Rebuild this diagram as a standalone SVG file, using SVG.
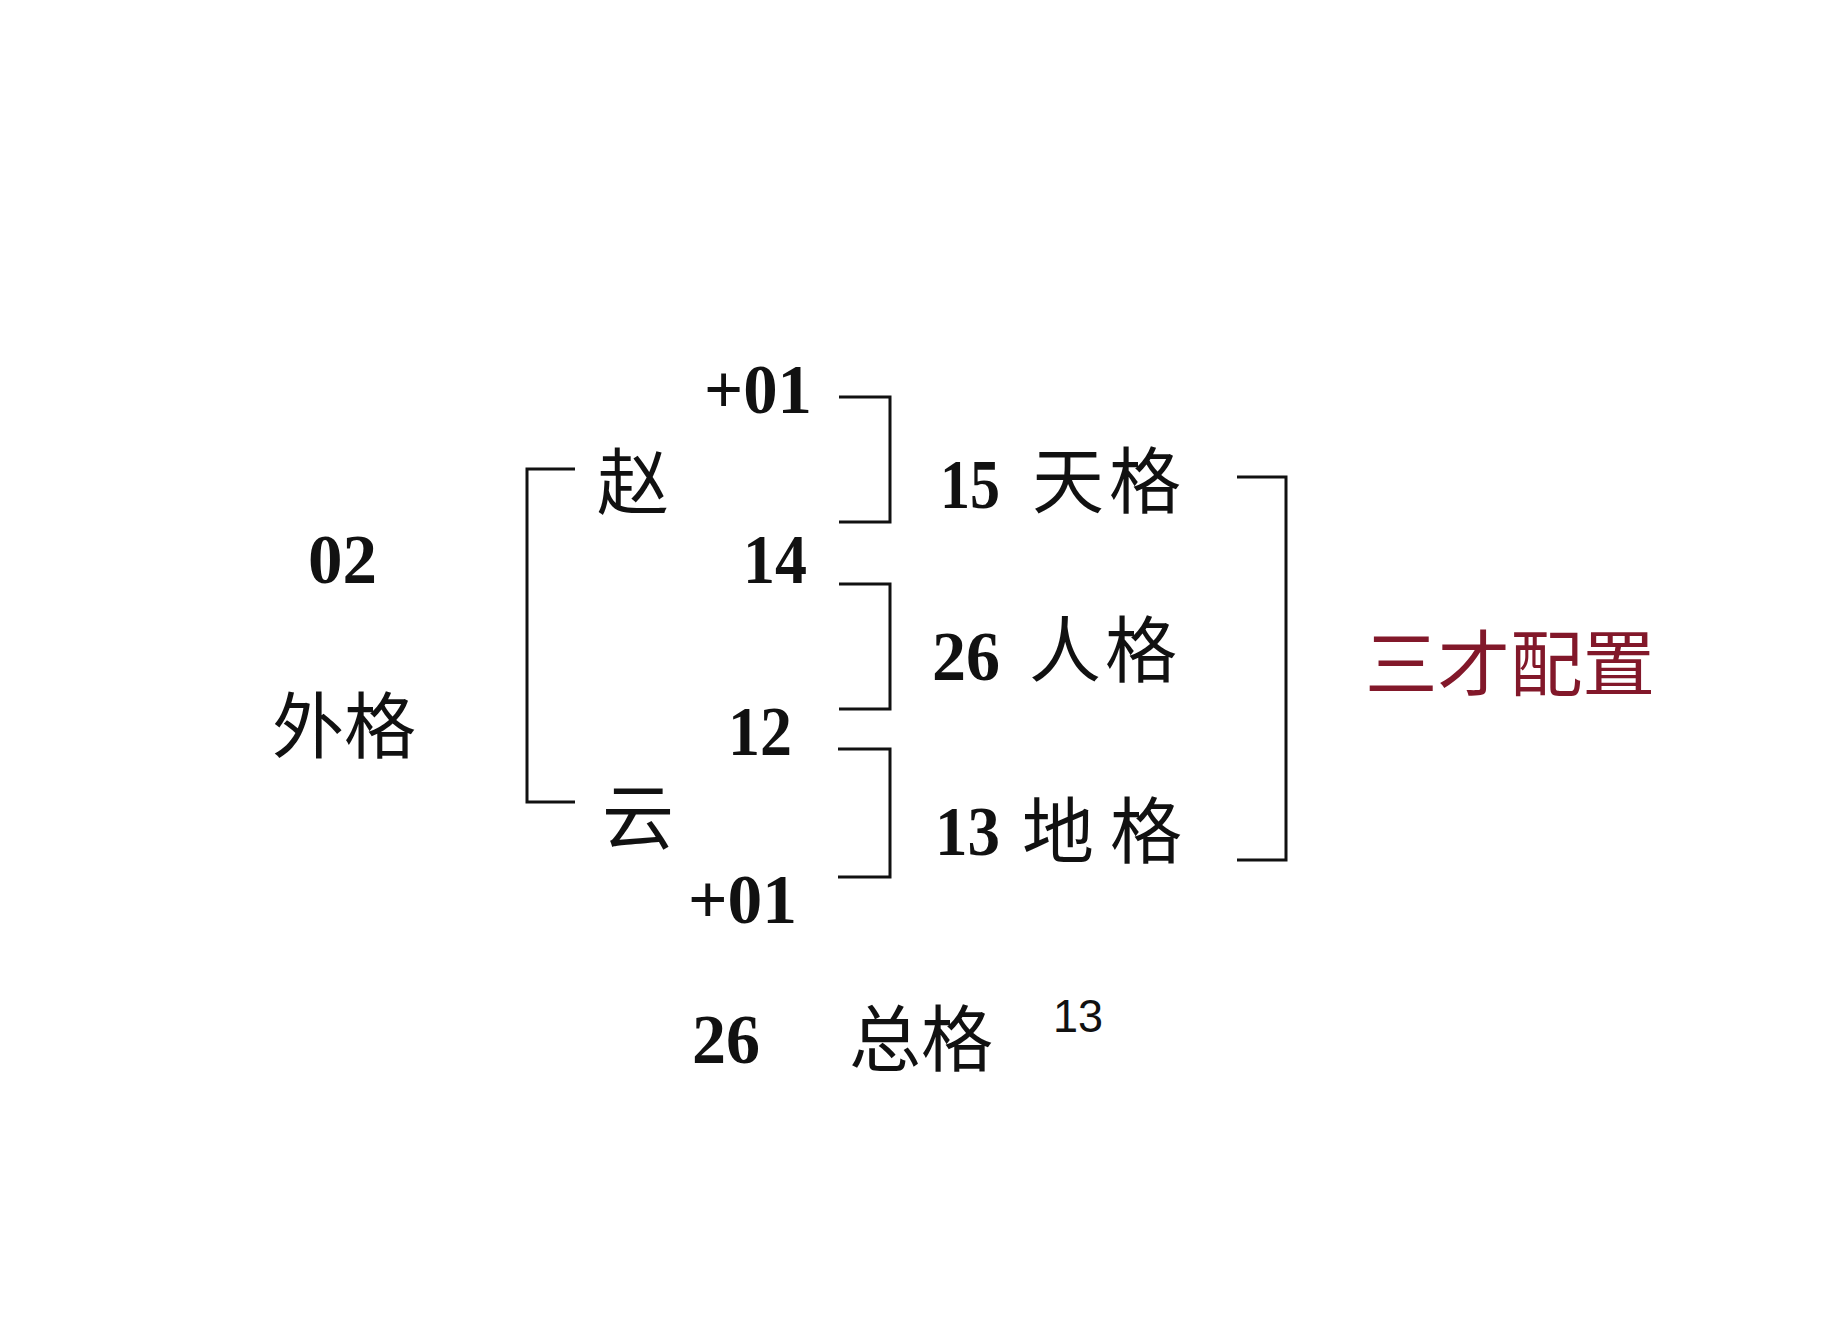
<svg xmlns="http://www.w3.org/2000/svg" width="1848" height="1324" viewBox="0 0 1848 1324">
<style>
.num{font-family:"Liberation Serif","Times New Roman",serif;font-weight:bold;font-size:70px;fill:#111}
.cjk{font-family:"Noto Sans CJK SC","Noto Sans CJK TC",sans-serif;font-weight:400;font-size:72px;fill:#111}
.red{font-family:"Noto Sans CJK SC","Noto Sans CJK TC",sans-serif;font-weight:400;font-size:72px;fill:#82182a}
.small{font-family:"Liberation Sans","Noto Sans",sans-serif;font-size:46px;fill:#111}
.br{fill:none;stroke:#111;stroke-width:3}
</style>
<rect width="1848" height="1324" fill="#ffffff"/>
<g id="connectors">
<path class="br" d="M575,469 H527 V802 H575"/>
<path class="br" d="M839,397 H890 V522 H839"/>
<path class="br" d="M839,584 H890 V709 H839"/>
<path class="br" d="M838,749 H890 V877 H838"/>
<path class="br" d="M1237,477 H1286 V860 H1237"/>
</g>
<g id="waige">
<text class="num" x="308" y="583" textLength="69" lengthAdjust="spacingAndGlyphs">02</text>
<text class="cjk" x="272" y="752" font-size="74">外格</text>
</g>
<g id="zhao">
<text class="cjk" x="597" y="508">赵</text>
</g>
<g id="yun">
<text class="cjk" x="602" y="843" font-size="69">云</text>
</g>
<g id="plus-top">
<text class="num" x="704" y="413" textLength="108" lengthAdjust="spacingAndGlyphs">+01</text>
</g>
<g id="n14">
<text class="num" x="743" y="583" textLength="64" lengthAdjust="spacingAndGlyphs">14</text>
</g>
<g id="n12">
<text class="num" x="728" y="755" textLength="64" lengthAdjust="spacingAndGlyphs">12</text>
</g>
<g id="plus-bottom">
<text class="num" x="688" y="923" textLength="109" lengthAdjust="spacingAndGlyphs">+01</text>
</g>
<g id="tiange">
<text class="num" x="940" y="508" textLength="60" lengthAdjust="spacingAndGlyphs">15</text>
<text class="cjk" x="1032" y="507">天</text>
<text class="cjk" x="1109" y="507">格</text>
</g>
<g id="renge">
<text class="num" x="932" y="680" textLength="68" lengthAdjust="spacingAndGlyphs">26</text>
<text class="cjk" x="1029" y="676">人</text>
<text class="cjk" x="1105" y="676">格</text>
</g>
<g id="dige">
<text class="num" x="935" y="855" textLength="65" lengthAdjust="spacingAndGlyphs">13</text>
<text class="cjk" x="1022" y="857">地</text>
<text class="cjk" x="1110" y="857">格</text>
</g>
<g id="sancai">
<text class="red" x="1365" y="690" textLength="290" lengthAdjust="spacingAndGlyphs">三才配置</text>
</g>
<g id="zongge">
<text class="num" x="692" y="1063" textLength="68" lengthAdjust="spacingAndGlyphs">26</text>
<text class="cjk" x="849" y="1065" font-size="74">总格</text>
<text class="small" x="1053" y="1032" textLength="50" lengthAdjust="spacingAndGlyphs">13</text>
</g>
</svg>
